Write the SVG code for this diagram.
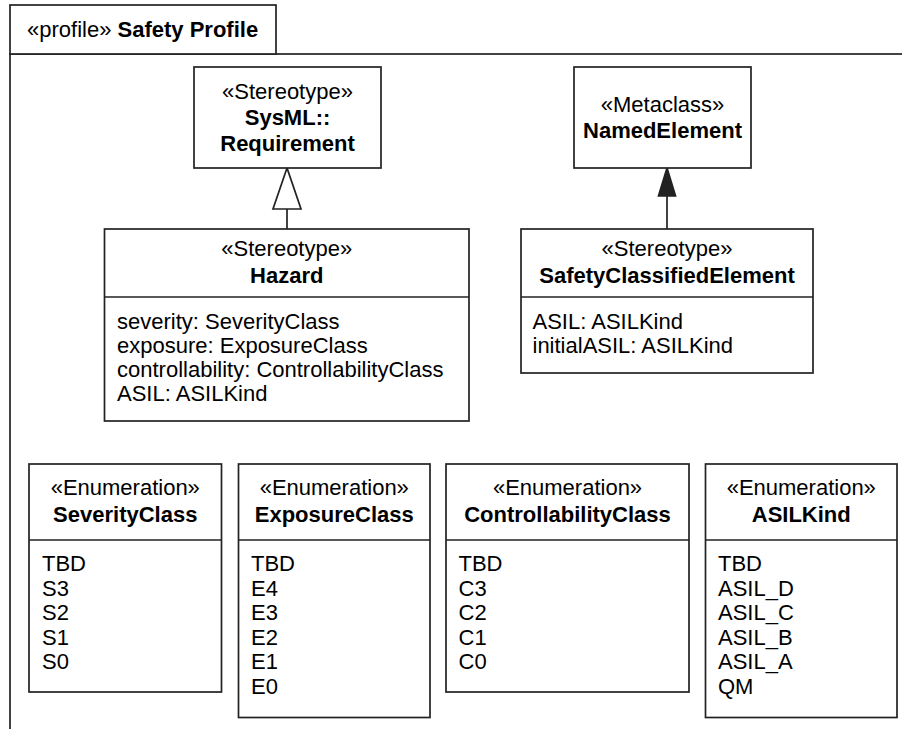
<svg xmlns="http://www.w3.org/2000/svg" width="902" height="729" viewBox="0 0 902 729">
<style>
  text { font-family: "Liberation Sans", Arial, Helvetica, sans-serif; font-size: 22px; fill: #000; }
  .c { text-anchor: middle; }
  .b { font-weight: bold; }
  .box { fill: #fff; stroke: #222; stroke-width: 1.7; }
  .ln { fill: none; stroke: #222; stroke-width: 1.7; }
</style>
<rect width="902" height="729" fill="#fff"/>
<g id="frame">
  <rect class="box" x="10" y="54" width="1000" height="1000"/>
  <rect class="box" x="10" y="5" width="266" height="49"/>
  <text x="27" y="37">«profile» <tspan class="b">Safety Profile</tspan></text>
</g>
<g id="connectors">
  <line class="ln" x1="287" y1="209" x2="287" y2="229"/>
  <polygon points="287,168 273,209 301,209" fill="#fff" stroke="#222" stroke-width="1.7"/>
  <line class="ln" x1="667" y1="196" x2="667" y2="229"/>
  <polygon points="667,168 658.5,196 675.5,196" fill="#222" stroke="#222" stroke-width="1.7"/>
</g>
<g id="requirement">
  <rect class="box" x="194" y="67" width="187" height="101"/>
  <text class="c" x="287.5" y="99">«Stereotype»</text>
  <text class="c b" x="287.5" y="125">SysML::</text>
  <text class="c b" x="287.5" y="151">Requirement</text>
</g>
<g id="namedElement">
  <rect class="box" x="574" y="67" width="177" height="101"/>
  <text class="c" x="662.5" y="112">«Metaclass»</text>
  <text class="c b" x="662.5" y="138">NamedElement</text>
</g>
<g id="hazard">
  <rect class="box" x="104.5" y="229" width="364.5" height="192"/>
  <line class="ln" x1="104.5" y1="297" x2="469" y2="297"/>
  <text class="c" x="286.75" y="256">«Stereotype»</text>
  <text class="c b" x="286.75" y="283">Hazard</text>
  <text x="117" y="329">severity: SeverityClass</text>
  <text x="117" y="353">exposure: ExposureClass</text>
  <text x="117" y="377">controllability: ControllabilityClass</text>
  <text x="117" y="401">ASIL: ASILKind</text>
</g>
<g id="safetyClassifiedElement">
  <rect class="box" x="521" y="229" width="292" height="144"/>
  <line class="ln" x1="521" y1="297" x2="813" y2="297"/>
  <text class="c" x="667" y="256">«Stereotype»</text>
  <text class="c b" x="667" y="283">SafetyClassifiedElement</text>
  <text x="532.5" y="329">ASIL: ASILKind</text>
  <text x="532.5" y="353">initialASIL: ASILKind</text>
</g>
<g id="severityClass">
  <rect class="box" x="29" y="464" width="192.5" height="228"/>
  <line class="ln" x1="29" y1="540" x2="221.5" y2="540"/>
  <text class="c" x="125.25" y="495">«Enumeration»</text>
  <text class="c b" x="125.25" y="521.5">SeverityClass</text>
  <text x="42" y="571">TBD</text>
  <text x="42" y="595.5">S3</text>
  <text x="42" y="620">S2</text>
  <text x="42" y="644.5">S1</text>
  <text x="42" y="669">S0</text>
</g>
<g id="exposureClass">
  <rect class="box" x="238.5" y="464" width="191.5" height="253.5"/>
  <line class="ln" x1="238.5" y1="540" x2="430" y2="540"/>
  <text class="c" x="334.25" y="495">«Enumeration»</text>
  <text class="c b" x="334.25" y="521.5">ExposureClass</text>
  <text x="251" y="571">TBD</text>
  <text x="251" y="595.5">E4</text>
  <text x="251" y="620">E3</text>
  <text x="251" y="644.5">E2</text>
  <text x="251" y="669">E1</text>
  <text x="251" y="693.5">E0</text>
</g>
<g id="controllabilityClass">
  <rect class="box" x="446" y="464" width="243" height="228"/>
  <line class="ln" x1="446" y1="540" x2="689" y2="540"/>
  <text class="c" x="567.5" y="495">«Enumeration»</text>
  <text class="c b" x="567.5" y="521.5">ControllabilityClass</text>
  <text x="458.5" y="571">TBD</text>
  <text x="458.5" y="595.5">C3</text>
  <text x="458.5" y="620">C2</text>
  <text x="458.5" y="644.5">C1</text>
  <text x="458.5" y="669">C0</text>
</g>
<g id="asilKind">
  <rect class="box" x="705.5" y="464" width="191.5" height="253.5"/>
  <line class="ln" x1="705.5" y1="540" x2="897" y2="540"/>
  <text class="c" x="801.25" y="495">«Enumeration»</text>
  <text class="c b" x="801.25" y="521.5">ASILKind</text>
  <text x="718" y="571">TBD</text>
  <text x="718" y="595.5">ASIL_D</text>
  <text x="718" y="620">ASIL_C</text>
  <text x="718" y="644.5">ASIL_B</text>
  <text x="718" y="669">ASIL_A</text>
  <text x="718" y="693.5">QM</text>
</g>
</svg>
